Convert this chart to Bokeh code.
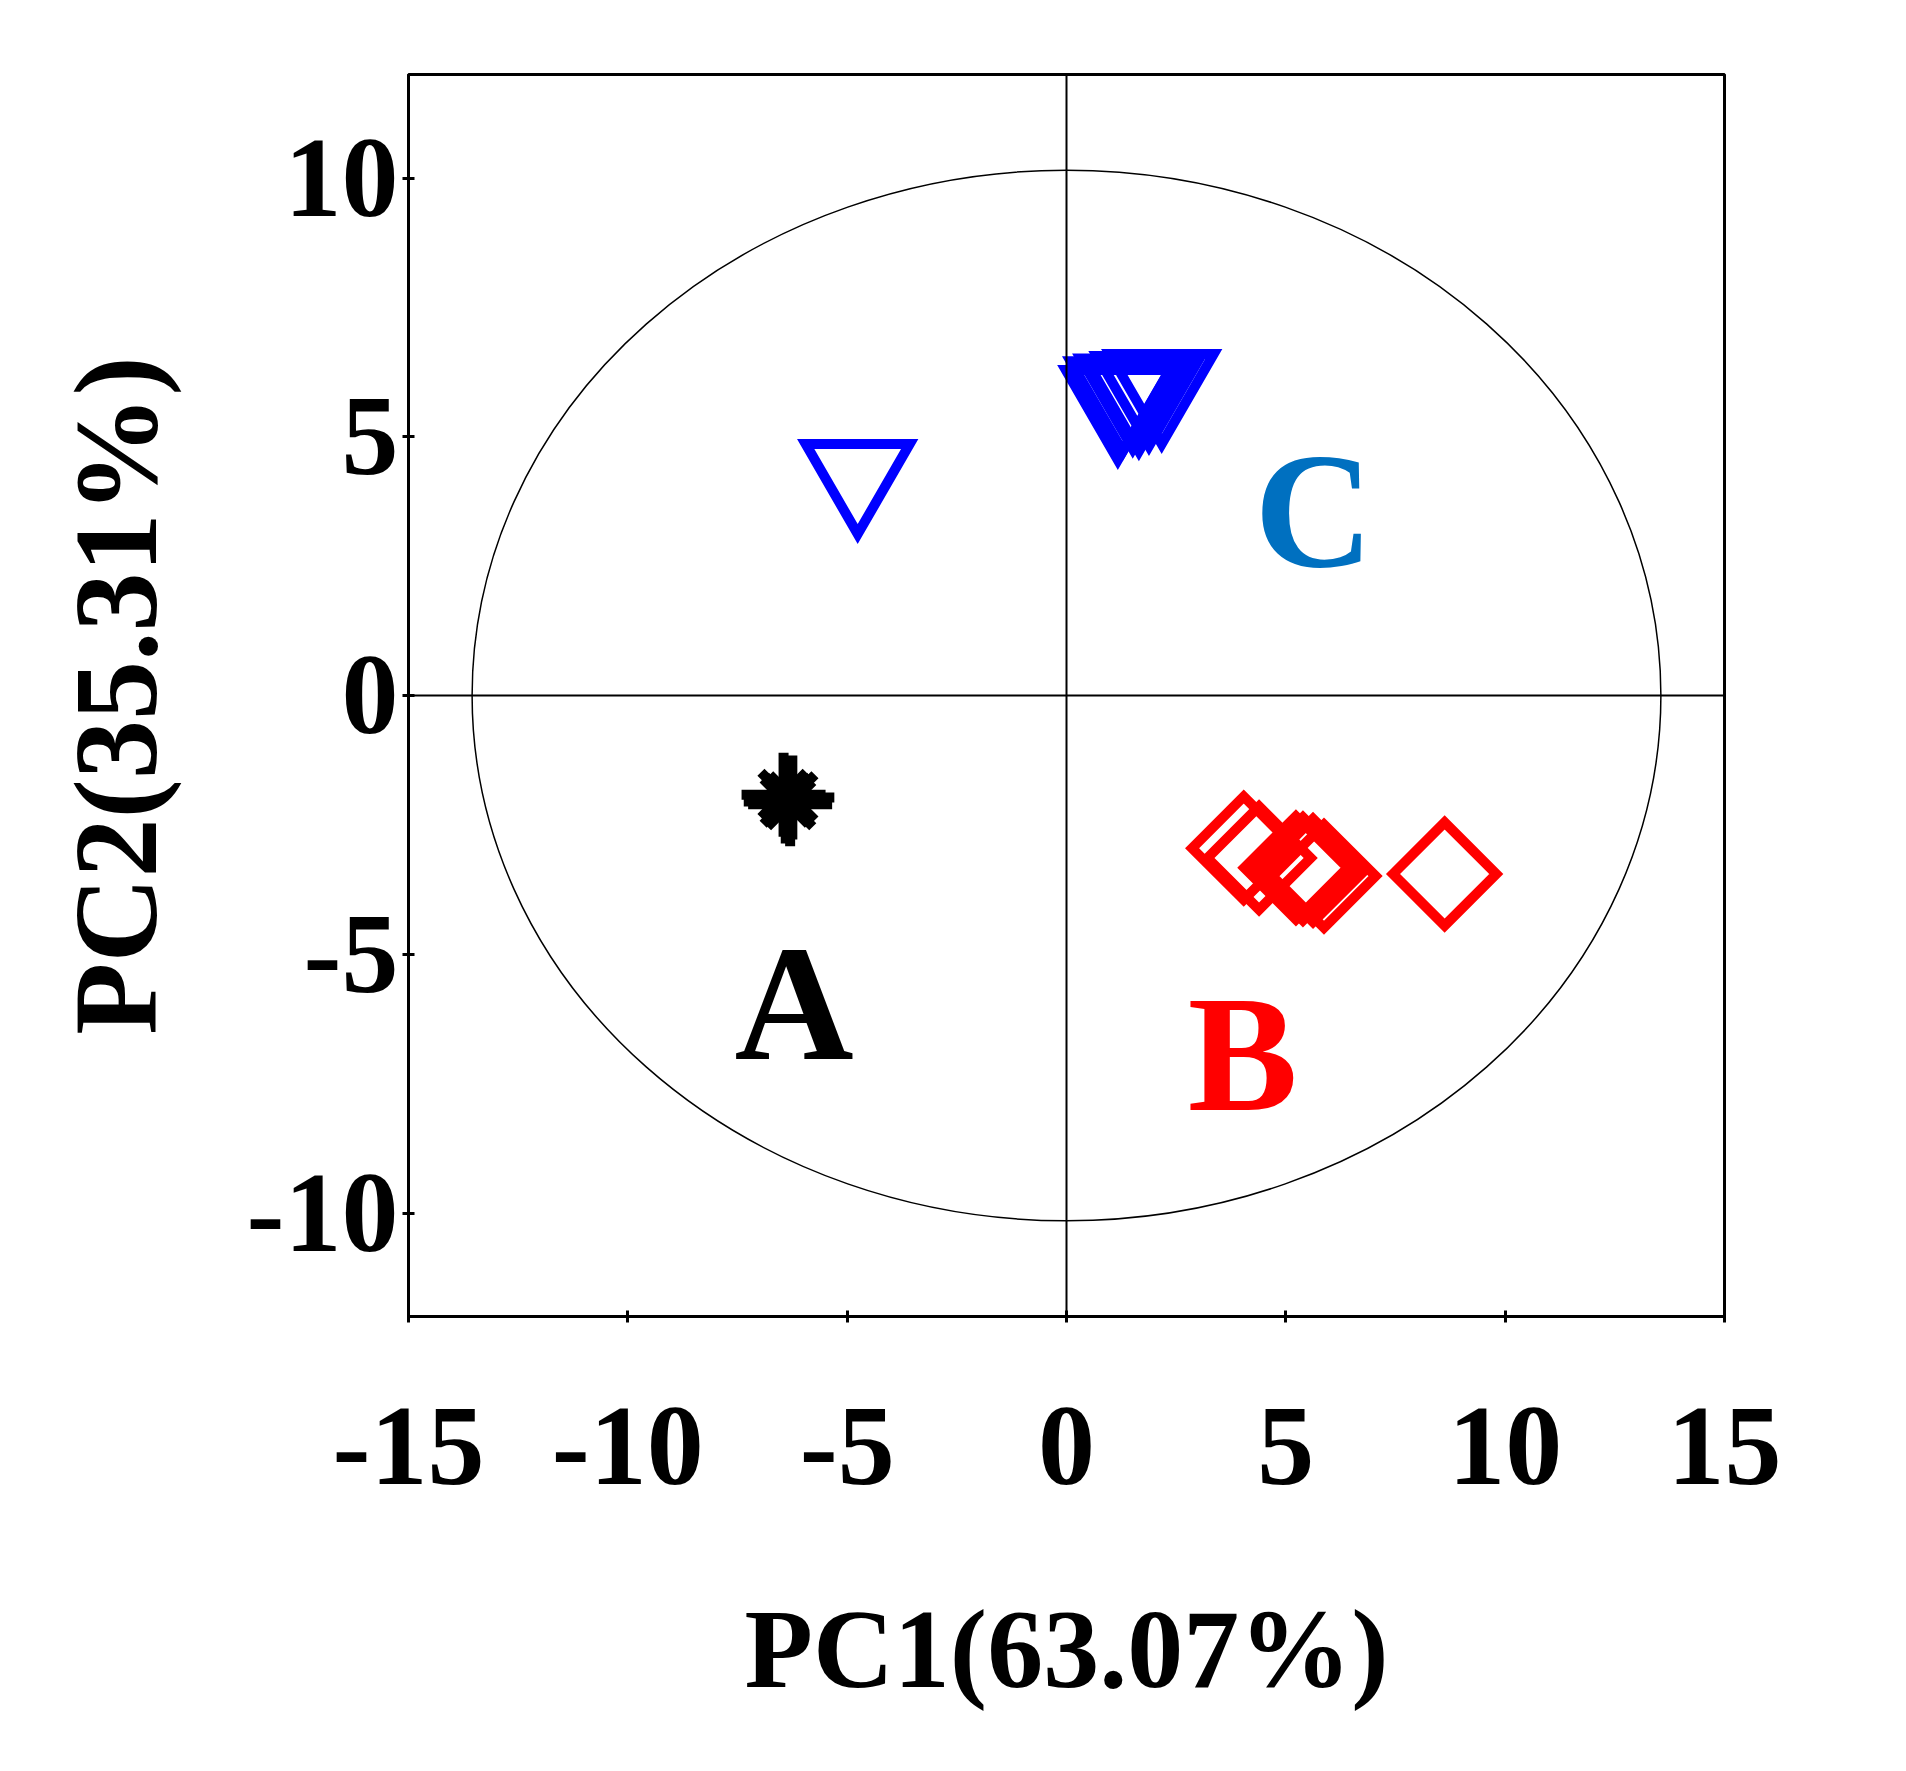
import math
from bokeh.plotting import figure
from bokeh.models import Span, Range1d, FixedTicker, ColumnDataSource
from bokeh.embed import file_html
from bokeh.resources import INLINE
from bokeh.core.properties import value

# ---- data ----
group_a_x = [-6.45, -6.35, -6.30, -6.40, -6.25]
group_a_y = [-1.92, -2.00, -2.10, -2.05, -1.97]

group_b_x = [4.04, 4.39, 5.23, 5.39, 5.62, 5.87, 8.62]
group_b_y = [-2.95, -3.14, -3.33, -3.35, -3.38, -3.49, -3.45]

group_c_x = [-4.76, 1.17, 1.28, 1.51, 1.65, 1.88, 2.17]
group_c_y = [4.28, 5.71, 5.88, 5.93, 5.88, 5.98, 6.02]

x_ticks = [-15, -10, -5, 0, 5, 10, 15]
y_ticks = [-10, -5, 0, 5, 10]

group_labels = ["A", "B", "C"]
group_label_x = [-6.21, 4.02, 5.64]
group_label_y = [-5.95, -6.94, 3.58]
group_label_colors = ["#000000", "#FF0000", "#0070C0"]

ellipse_x = [0.0]
ellipse_y = [0.0]
ellipse_w = [27.1]
ellipse_h = [20.3]

x_label = "PC1(63.07%)"
y_label = "PC2(35.31%)"

FONT = "Liberation Serif"

p = figure(width=1890, height=1755, output_backend="svg", toolbar_location=None,
           x_range=Range1d(-15, 15), y_range=Range1d(-12, 12),
           min_border_left=408, min_border_top=74, min_border_right=166,
           min_border_bottom=439)
p.grid.visible = False
p.outline_line_color = "black"
p.outline_line_width = 3
p.background_fill_color = "white"
p.border_fill_color = "white"

for ax, ticks in ((p.xaxis[0], x_ticks), (p.yaxis[0], y_ticks)):
    ax.ticker = FixedTicker(ticks=ticks)
    ax.major_label_overrides = {t: str(t) for t in ticks}
    ax.axis_line_width = 3
    ax.major_tick_line_width = 3
    ax.major_tick_in = 6
    ax.major_tick_out = 6
    ax.minor_tick_line_color = None
    ax.major_label_text_font = FONT
    ax.major_label_text_font_style = "bold"
    ax.major_label_text_font_size = "114px"
    ax.major_label_text_color = "black"
    ax.axis_label_text_font = FONT
    ax.axis_label_text_font_style = "bold"
    ax.axis_label_text_color = "black"

p.xaxis.axis_label = x_label
p.yaxis.axis_label = y_label
p.xaxis.axis_label_text_font_size = "112px"
p.yaxis.axis_label_text_font_size = "118px"
p.xaxis.major_label_standoff = 86
p.xaxis.axis_label_standoff = 100
p.yaxis.major_label_standoff = 4
p.yaxis.axis_label_standoff = 62

p.add_layout(Span(location=0, dimension="height", line_color="black", line_width=2))
p.add_layout(Span(location=0, dimension="width", line_color="black", line_width=2))

p.ellipse(x=ellipse_x, y=ellipse_y, width=ellipse_w, height=ellipse_h,
          fill_color=None, line_color="black", line_width=1.5)

p.scatter(group_c_x, group_c_y, marker="inverted_triangle", size=104,
          fill_color=None, line_color="#0000FF", line_width=10, line_join="miter")
p.scatter(group_b_x, group_b_y, marker="square", angle=math.pi / 4, size=73,
          fill_color=None, line_color="#FF0000", line_width=10, line_join="miter")
p.scatter(group_a_x, group_a_y, marker="cross", size=84,
          line_color="black", line_width=10)
p.scatter(group_a_x, group_a_y, marker="x", size=64,
          line_color="black", line_width=10)

src = ColumnDataSource(dict(x=group_label_x, y=group_label_y, t=group_labels,
                            c=group_label_colors))
p.text(x="x", y="y", text="t", text_color="c", source=src,
       text_font=value(FONT), text_font_style="bold", text_font_size="165px",
       text_align="center", text_baseline="alphabetic")

open("out.html", "w").write(file_html(p, INLINE))
